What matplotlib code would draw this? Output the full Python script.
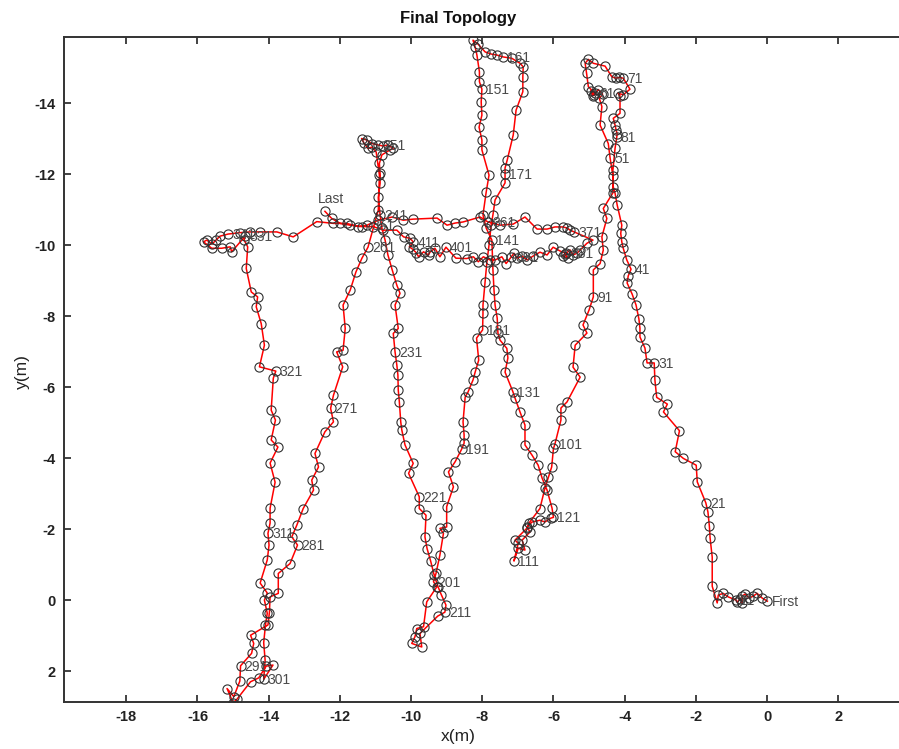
import matplotlib
matplotlib.use("Agg")
import matplotlib.pyplot as plt

plt.rcParams['font.family'] = ['Liberation Sans', 'DejaVu Sans']
plt.rcParams['axes.unicode_minus'] = False

# node positions (x, y in metres), one line = 10 consecutive nodes
x_nodes = [
    0.01, -0.14, -0.28, -0.39, -0.50, -0.62, -0.70, -0.70, -0.76, -0.84,
    -0.87, -1.09, -1.23, -1.37, -1.40, -1.54, -1.54, -1.60, -1.62, -1.66,
    -1.72, -1.96, -1.99, -2.35, -2.58, -2.46, -2.91, -2.80, -3.10, -3.15,
    -3.17, -3.37, -3.43, -3.57, -3.57, -3.60, -3.68, -3.79, -3.93, -3.90,
    -3.82, -3.94, -4.04, -4.08, -4.11, -4.08, -4.21, -4.27, -4.32, -4.33,
    -4.41, -4.46, -4.69, -4.64, -4.71, -4.62, -4.74, -4.86, -4.95, -4.90,
    -4.83, -5.02, -5.07, -5.11, -5.02, -4.88, -4.55, -4.36, -4.25, -4.15,
    -4.04, -3.85, -4.04, -4.19, -4.13, -4.13, -4.32, -4.27, -4.24, -4.21,
    -4.22, -4.27, -4.33, -4.33, -4.60, -4.50, -4.64, -4.60, -4.69, -4.88,
    -4.88, -5.00, -5.17, -5.06, -5.39, -5.45, -5.25, -5.62, -5.79, -5.79,
    -5.96, -6.00, -6.05, -6.14, -6.24, -6.38, -6.68, -6.75, -7.08, -6.99,
    -7.11, -6.99, -6.80, -6.88, -6.66, -6.74, -6.60, -6.38, -6.24, -6.07,
    -6.00, -6.04, -6.18, -6.32, -6.43, -6.60, -6.80, -6.80, -6.94, -7.08,
    -7.14, -7.36, -7.28, -7.31, -7.50, -7.56, -7.58, -7.64, -7.67, -7.70,
    -7.73, -7.89, -7.98, -7.89, -7.81, -8.01, -8.01, -8.09, -8.01, -8.03,
    -8.01, -8.08, -8.08, -8.15, -8.20, -8.26, -8.12, -7.92, -7.75, -7.58,
    -7.42, -7.17, -6.94, -6.85, -6.86, -6.86, -7.05, -7.13, -7.30, -7.36,
    -7.36, -7.36, -7.64, -7.70, -7.75, -7.81, -7.87, -7.92, -7.98, -7.98,
    -7.99, -8.16, -8.10, -8.20, -8.26, -8.40, -8.48, -8.54, -8.51, -8.51,
    -8.58, -8.76, -8.95, -8.81, -9.00, -9.00, -9.19, -9.09, -9.19, -9.30,
    -9.37, -9.28, -9.56, -9.65, -9.84, -9.89, -9.98, -9.70, -9.75, -9.25,
    -9.05, -9.02, -9.15, -9.24, -9.35, -9.45, -9.55, -9.61, -9.58, -9.77,
    -9.77, -10.07, -9.94, -10.17, -10.26, -10.29, -10.33, -10.36, -10.37, -10.40,
    -10.45, -10.50, -10.36, -10.45, -10.31, -10.40, -10.53, -10.65, -10.73, -10.82,
    -10.87, -10.92, -10.87, -10.87, -10.89, -10.82, -10.59, -10.50, -10.65, -10.79,
    -10.93, -11.11, -11.25, -11.39, -11.32, -11.21, -11.10, -10.98, -10.89, -10.92,
    -11.21, -11.38, -11.55, -11.71, -11.91, -11.85, -11.91, -12.09, -11.92, -12.18,
    -12.26, -12.18, -12.42, -12.70, -12.60, -12.79, -12.74, -13.03, -13.21, -13.35,
    -13.19, -13.40, -13.73, -13.73, -13.96, -13.98, -14.02, -14.51, -14.42, -14.48,
    -14.79, -14.81, -14.98, -15.17, -15.00, -14.89, -14.51, -14.28, -14.07, -13.88,
    -14.14, -14.10, -14.14, -14.09, -14.04, -14.12, -14.04, -14.24, -14.04, -13.99,
    -14.02, -13.96, -13.96, -13.82, -13.96, -13.74, -13.93, -13.81, -13.93, -13.87,
    -13.80, -14.26, -14.12, -14.21, -14.35, -14.31, -14.49, -14.63, -14.59, -14.69,
    -14.66, -15.04, -15.08, -15.32, -15.60, -15.83, -15.74, -15.59, -15.48, -15.37,
    -15.14, -14.80, -14.52, -14.24, -13.77, -13.31, -12.65, -12.18, -11.81, -11.48,
    -11.24, -10.92, -10.53, -10.22, -9.94, -9.27, -8.99, -8.76, -8.54, -8.06,
    -7.84, -7.50, -7.13, -6.80, -6.46, -6.18, -5.96, -5.73, -5.62, -5.53,
    -5.42, -4.89, -5.06, -5.25, -5.34, -5.45, -5.53, -5.67, -5.59, -5.73,
    -5.65, -5.81, -6.01, -6.18, -6.38, -6.57, -6.74, -6.88, -7.02, -7.11,
    -7.19, -7.33, -7.45, -7.64, -7.78, -7.97, -8.11, -8.25, -8.44, -8.74,
    -9.02, -9.19, -9.33, -9.47, -9.51, -9.65, -9.79, -9.85, -9.95, -10.05,
    -9.94, -10.03, -10.21, -10.40, -10.78, -11.06, -11.39, -11.71, -11.99, -12.23,
    -12.42,
]
y_nodes = [
    0.03, -0.06, -0.19, -0.11, -0.06, -0.17, -0.11, 0.08, -0.03, 0.06,
    0.00, -0.09, -0.19, -0.14, 0.08, -0.39, -1.21, -1.75, -2.08, -2.48,
    -2.74, -3.33, -3.80, -3.99, -4.18, -4.77, -5.30, -5.52, -5.71, -6.20,
    -6.68, -6.68, -7.10, -7.41, -7.66, -7.92, -8.31, -8.62, -8.93, -9.13,
    -9.32, -9.58, -9.91, -10.09, -10.33, -10.56, -11.13, -11.46, -11.64, -11.95,
    -12.46, -12.86, -13.38, -13.90, -14.13, -14.25, -14.38, -14.22, -14.35, -14.20,
    -14.27, -14.46, -14.84, -15.12, -15.23, -15.12, -15.04, -14.74, -14.70, -14.72,
    -14.70, -14.39, -14.23, -14.28, -14.20, -13.71, -13.57, -13.38, -13.24, -13.13,
    -13.05, -12.72, -12.11, -11.47, -11.03, -10.75, -10.23, -9.86, -9.48, -9.30,
    -8.54, -8.17, -7.75, -7.52, -7.18, -6.56, -6.28, -5.58, -5.41, -5.07,
    -4.39, -4.27, -3.75, -3.47, -3.15, -2.58, -2.18, -2.02, -1.69, -1.60,
    -1.10, -1.46, -1.41, -1.69, -1.92, -2.06, -2.20, -2.25, -2.20, -2.31,
    -2.33, -2.59, -3.10, -3.44, -3.80, -4.08, -4.37, -4.93, -5.30, -5.69,
    -5.87, -6.42, -6.82, -7.09, -7.32, -7.52, -7.94, -8.31, -8.73, -9.30,
    -10.14, -10.48, -10.85, -11.49, -11.97, -12.68, -12.96, -13.32, -13.66, -14.03,
    -14.39, -14.60, -14.88, -15.35, -15.58, -15.77, -15.66, -15.44, -15.38, -15.35,
    -15.30, -15.26, -15.12, -15.02, -14.74, -14.32, -13.80, -13.10, -12.39, -12.17,
    -11.99, -11.75, -11.27, -10.85, -10.56, -10.00, -9.52, -8.96, -8.31, -8.08,
    -7.61, -7.38, -6.76, -6.42, -6.20, -5.86, -5.72, -5.02, -4.65, -4.42,
    -4.25, -3.90, -3.61, -3.19, -2.63, -2.06, -2.02, -1.88, -1.27, -0.75,
    -0.52, -0.37, 0.05, 0.75, 0.80, 1.03, 1.22, 1.32, 0.94, 0.45,
    0.34, 0.14, -0.15, -0.37, -0.70, -1.10, -1.45, -1.78, -2.39, -2.58,
    -2.91, -3.57, -3.85, -4.37, -4.79, -5.02, -5.59, -5.92, -6.34, -6.62,
    -6.99, -7.51, -7.65, -8.31, -8.64, -8.87, -9.30, -9.72, -10.14, -10.48,
    -10.85, -11.34, -11.74, -12.02, -12.30, -12.54, -12.68, -12.72, -12.82, -12.79,
    -12.82, -12.86, -12.96, -13.00, -12.87, -12.72, -12.76, -12.62, -11.97, -10.99,
    -9.94, -9.63, -9.24, -8.73, -8.31, -7.65, -7.04, -6.99, -6.57, -5.77,
    -5.40, -5.02, -4.74, -4.13, -3.75, -3.38, -3.10, -2.58, -2.11, -1.78,
    -1.55, -1.03, -0.75, -0.19, -0.09, 0.35, 0.70, 0.99, 1.22, 1.50,
    1.85, 2.28, 2.72, 2.49, 2.89, 2.79, 2.30, 2.19, 1.86, 1.83,
    2.23, 1.69, 1.20, 0.70, 0.37, 0.00, -0.20, -0.48, -1.13, -1.55,
    -1.88, -2.17, -2.59, -3.32, -3.86, -4.31, -4.51, -5.07, -5.35, -6.25,
    -6.45, -6.57, -7.18, -7.79, -8.26, -8.54, -8.68, -9.34, -9.95, -10.14,
    -10.25, -9.81, -9.95, -9.91, -9.91, -10.09, -10.14, -10.03, -10.14, -10.25,
    -10.31, -10.35, -10.37, -10.37, -10.37, -10.23, -10.66, -10.61, -10.61, -10.52,
    -10.56, -10.70, -10.79, -10.70, -10.73, -10.76, -10.56, -10.62, -10.65, -10.79,
    -10.65, -10.56, -10.59, -10.79, -10.45, -10.45, -10.51, -10.51, -10.48, -10.42,
    -10.37, -10.14, -10.05, -9.86, -9.77, -9.72, -9.86, -9.75, -9.63, -9.69,
    -9.77, -9.83, -9.94, -9.72, -9.80, -9.69, -9.58, -9.69, -9.63, -9.77,
    -9.66, -9.48, -9.67, -9.58, -9.58, -9.67, -9.53, -9.67, -9.62, -9.63,
    -9.94, -9.67, -9.91, -9.80, -9.72, -9.81, -9.67, -9.78, -9.88, -9.95,
    -10.09, -10.19, -10.23, -10.42, -10.42, -10.52, -10.52, -10.56, -10.61, -10.75,
    -10.95,
]

x_ticks = [-18, -16, -14, -12, -10, -8, -6, -4, -2, 0, 2]
y_ticks = [-14, -12, -10, -8, -6, -4, -2, 0, 2]

W, H = 899, 749
fig = plt.figure(figsize=(W / 100, H / 100), dpi=100)
ax = fig.add_axes([64 / W, 47 / H, 844 / W, 665 / H])

ax.plot(x_nodes, y_nodes, color='red', lw=1.1, zorder=2)
ax.plot(x_nodes, y_nodes, ls='none', marker='o', ms=6.6, mfc='none',
        mec='#303030', mew=0.8, zorder=3)

# node labels: every 10th node, plus first and last
n = len(x_nodes)
for i in range(n):
    idx = i + 1
    if idx == 1:
        txt = 'First'
    elif idx == n:
        ax.annotate('Last', (x_nodes[i], y_nodes[i]), xytext=(-7, 5),
                    textcoords='offset pixels', ha='left', va='bottom',
                    fontsize=10, color='#4a4a4a')
        continue
    elif idx % 10 == 1:
        txt = str(idx)
    else:
        continue
    ax.annotate(txt, (x_nodes[i], y_nodes[i]), xytext=(4, -1),
                textcoords='offset pixels', ha='left', va='center',
                fontsize=10, color='#4a4a4a')

ax.set_xlim(-19.75, 3.96)
ax.set_ylim(2.87, -15.86)
ax.set_xticks(x_ticks)
ax.set_yticks(y_ticks)
ax.tick_params(direction='in', length=5, width=1.2, top=True, right=True,
               labelsize=10.5, colors='#222222', pad=6)
for lab in ax.get_xticklabels() + ax.get_yticklabels():
    lab.set_fontweight('bold')
for sp in ax.spines.values():
    sp.set_linewidth(1.4)
    sp.set_color('#333333')

fig.text(458 / W, 1 - 18 / H, 'Final Topology', ha='center', va='center',
         fontsize=12, fontweight='bold', color='#111111')
fig.text(458 / W, 1 - 737 / H, 'x(m)', ha='center', va='center',
         fontsize=12.5, color='#222222')
fig.text(22 / W, 1 - 372 / H, 'y(m)', ha='center', va='center',
         fontsize=12.5, color='#222222', rotation=90)

fig.savefig('out.png', dpi=100)
